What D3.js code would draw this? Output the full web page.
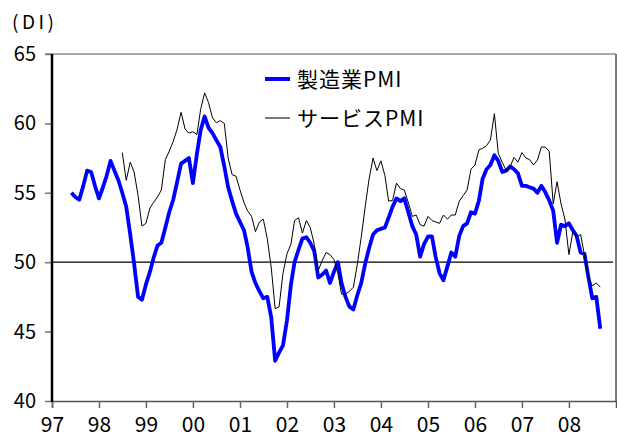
<!DOCTYPE html>
<html><head><meta charset="utf-8">
<script src="https://cdn.jsdelivr.net/npm/d3@7/dist/d3.min.js"></script>
<style>
body{margin:0;background:#fff;}
text{font-family:"Noto Sans CJK JP","Noto Sans",sans-serif;fill:#000;}
</style></head>
<body>
<svg id="c" width="617" height="438"></svg>
<script>
// Monthly series (start month index from Jan 1997 = 0)
const mfgStart = 5;   // Jun 1997
const mfgValues = [55.0,54.7,54.5,55.5,56.6,56.5,55.5,54.6,55.4,56.2,57.3,56.6,55.9,55.0,54.0,52.0,49.9,47.5,47.3,48.4,
49.3,50.3,51.2,51.4,52.5,53.6,54.5,55.8,57.1,57.3,57.5,55.7,57.8,59.5,60.5,59.7,59.3,58.8,58.3,56.9,
55.4,54.4,53.5,52.9,52.3,51.1,49.3,48.5,47.9,47.4,47.5,46.0,42.9,43.5,44.0,45.8,48.4,50.0,50.9,51.7,
51.8,51.4,50.8,48.9,49.1,49.4,48.5,49.3,50.0,48.5,47.5,46.8,46.6,47.6,48.5,49.9,51.0,52.0,52.3,52.4,
52.5,53.2,54.0,54.6,54.4,54.6,53.6,52.6,52.0,50.4,51.3,51.85,51.85,50.4,49.2,48.7,49.7,50.7,50.4,51.9,
52.6,52.8,53.6,53.5,54.45,56.0,56.7,57.0,57.7,57.3,56.5,56.6,56.9,56.7,56.4,55.5,55.5,55.4,55.3,55.0,
55.5,55.05,54.45,53.7,51.4,52.7,52.6,52.8,52.3,51.9,50.7,50.6,48.9,47.4,47.5,45.2];
const svcStart = 18;  // Jul 1998
const svcValues = [57.9,55.9,57.2,56.5,54.8,52.6,52.8,53.9,54.3,54.7,55.2,57.4,58.0,58.7,59.6,60.8,59.6,59.3,59.4,59.2,
61.0,62.2,61.5,60.4,60.05,60.2,60.0,57.5,56.3,56.2,55.2,54.3,53.7,53.3,52.2,52.9,53.1,51.7,49.6,46.65,
46.8,49.2,50.6,51.3,53.0,53.2,52.1,53.0,52.5,51.3,49.4,50.1,50.7,50.55,50.2,49.2,47.7,47.7,47.9,48.2,
49.8,51.8,54.0,56.0,57.5,56.6,57.3,56.25,54.4,54.45,55.7,55.3,55.2,54.3,53.3,53.4,52.7,52.6,53.3,53.0,
52.9,52.8,53.4,53.1,53.4,53.4,54.4,54.8,55.2,56.7,57.0,58.1,58.2,58.4,58.8,60.7,57.85,57.2,56.6,56.9,
57.55,57.2,57.9,57.5,57.4,57.0,57.35,58.3,58.3,58.0,54.2,55.8,54.2,53.1,50.55,52.2,51.8,52.0,50.5,48.9,
48.3,48.5,48.2];
const yearLabels = ["97","98","99","00","01","02","03","04","05","06","07","08"];
const yTicks = [40,45,50,55,60,65];
const seriesNames = ["製造業PMI","サービスPMI"];

const svg = d3.select("#c");
const L = 52, R = 616, T = 54, B = 401;
const t0 = new Date(1997,0,1);
const x = d3.scaleTime().domain([t0, new Date(2009,0,1)]).range([L, R]);
const y = d3.scaleLinear().domain([40,65]).range([B, T]);

const toPts = (start, vals) => vals.map((v,i)=>({d:d3.timeMonth.offset(t0, start+i), v}));
const mfg = toPts(mfgStart, mfgValues);
const svc = toPts(svcStart, svcValues);

// frame top & right
svg.append("line").attr("x1",45).attr("x2",R).attr("y1",T).attr("y2",T)
  .attr("stroke","#8c8c8c").attr("stroke-width",1.5);
svg.append("line").attr("x1",R).attr("x2",R).attr("y1",T).attr("y2",B)
  .attr("stroke","#7a7a7a").attr("stroke-width",2);

// x axis
const xTickDates = yearLabels.map((s,i)=>new Date(1997+i,0,1));
const xAxis = d3.axisBottom(x).tickValues(xTickDates).tickSize(7).tickPadding(9)
  .tickFormat((d,i)=>yearLabels[i]);
const gx = svg.append("g").attr("transform",`translate(0,${B})`).call(xAxis);
gx.select(".domain").attr("stroke","#555").attr("stroke-width",1.5);
gx.selectAll(".tick line").attr("stroke","#666").attr("stroke-width",1.5);
gx.selectAll(".tick text").attr("font-size",21).attr("font-family","'Noto Sans CJK JP',sans-serif").attr("fill","#000");

// y axis
const yAxis = d3.axisLeft(y).tickValues(yTicks).tickSize(7).tickPadding(9).tickFormat(d3.format("d"));
const gy = svg.append("g").attr("transform",`translate(${L},0)`).call(yAxis);
gy.select(".domain").remove();
gy.selectAll(".tick line").attr("stroke","#777").attr("stroke-width",1.5);
gy.selectAll(".tick text").attr("font-size",20).attr("font-family","'Noto Sans CJK JP',sans-serif").attr("fill","#000");
svg.append("line").attr("x1",L).attr("x2",L).attr("y1",T).attr("y2",B+1)
  .attr("stroke","#000").attr("stroke-width",2.5);

// 50 line
svg.append("line").attr("x1",L).attr("x2",613).attr("y1",y(50)).attr("y2",y(50))
  .attr("stroke","#000").attr("stroke-width",1.3);

const line = d3.line().x(d=>x(d.d)).y(d=>y(d.v));
svg.append("path").datum(mfg).attr("d",line).attr("fill","none")
  .attr("stroke","#0000ff").attr("stroke-width",3.8).attr("stroke-linejoin","round");
svg.append("path").datum(svc).attr("d",line).attr("fill","none")
  .attr("stroke","#000").attr("stroke-width",1);

// (DI)
svg.append("text").attr("x",12).attr("y",29).attr("letter-spacing",3.5)
  .attr("font-size",19).text("(DI)");

// legend
const leg = [{n:seriesNames[0],c:"#0000ff",w:4,y:79},{n:seriesNames[1],c:"#6a6a6a",w:1.8,y:118}];
leg.forEach(l=>{
  svg.append("line").attr("x1",265).attr("x2",290).attr("y1",l.y).attr("y2",l.y)
    .attr("stroke",l.c).attr("stroke-width",l.w);
  svg.append("text").attr("x",297).attr("y",l.y+8).attr("letter-spacing",1)
    .attr("font-size",21).text(l.n);
});
</script>
</body></html>
